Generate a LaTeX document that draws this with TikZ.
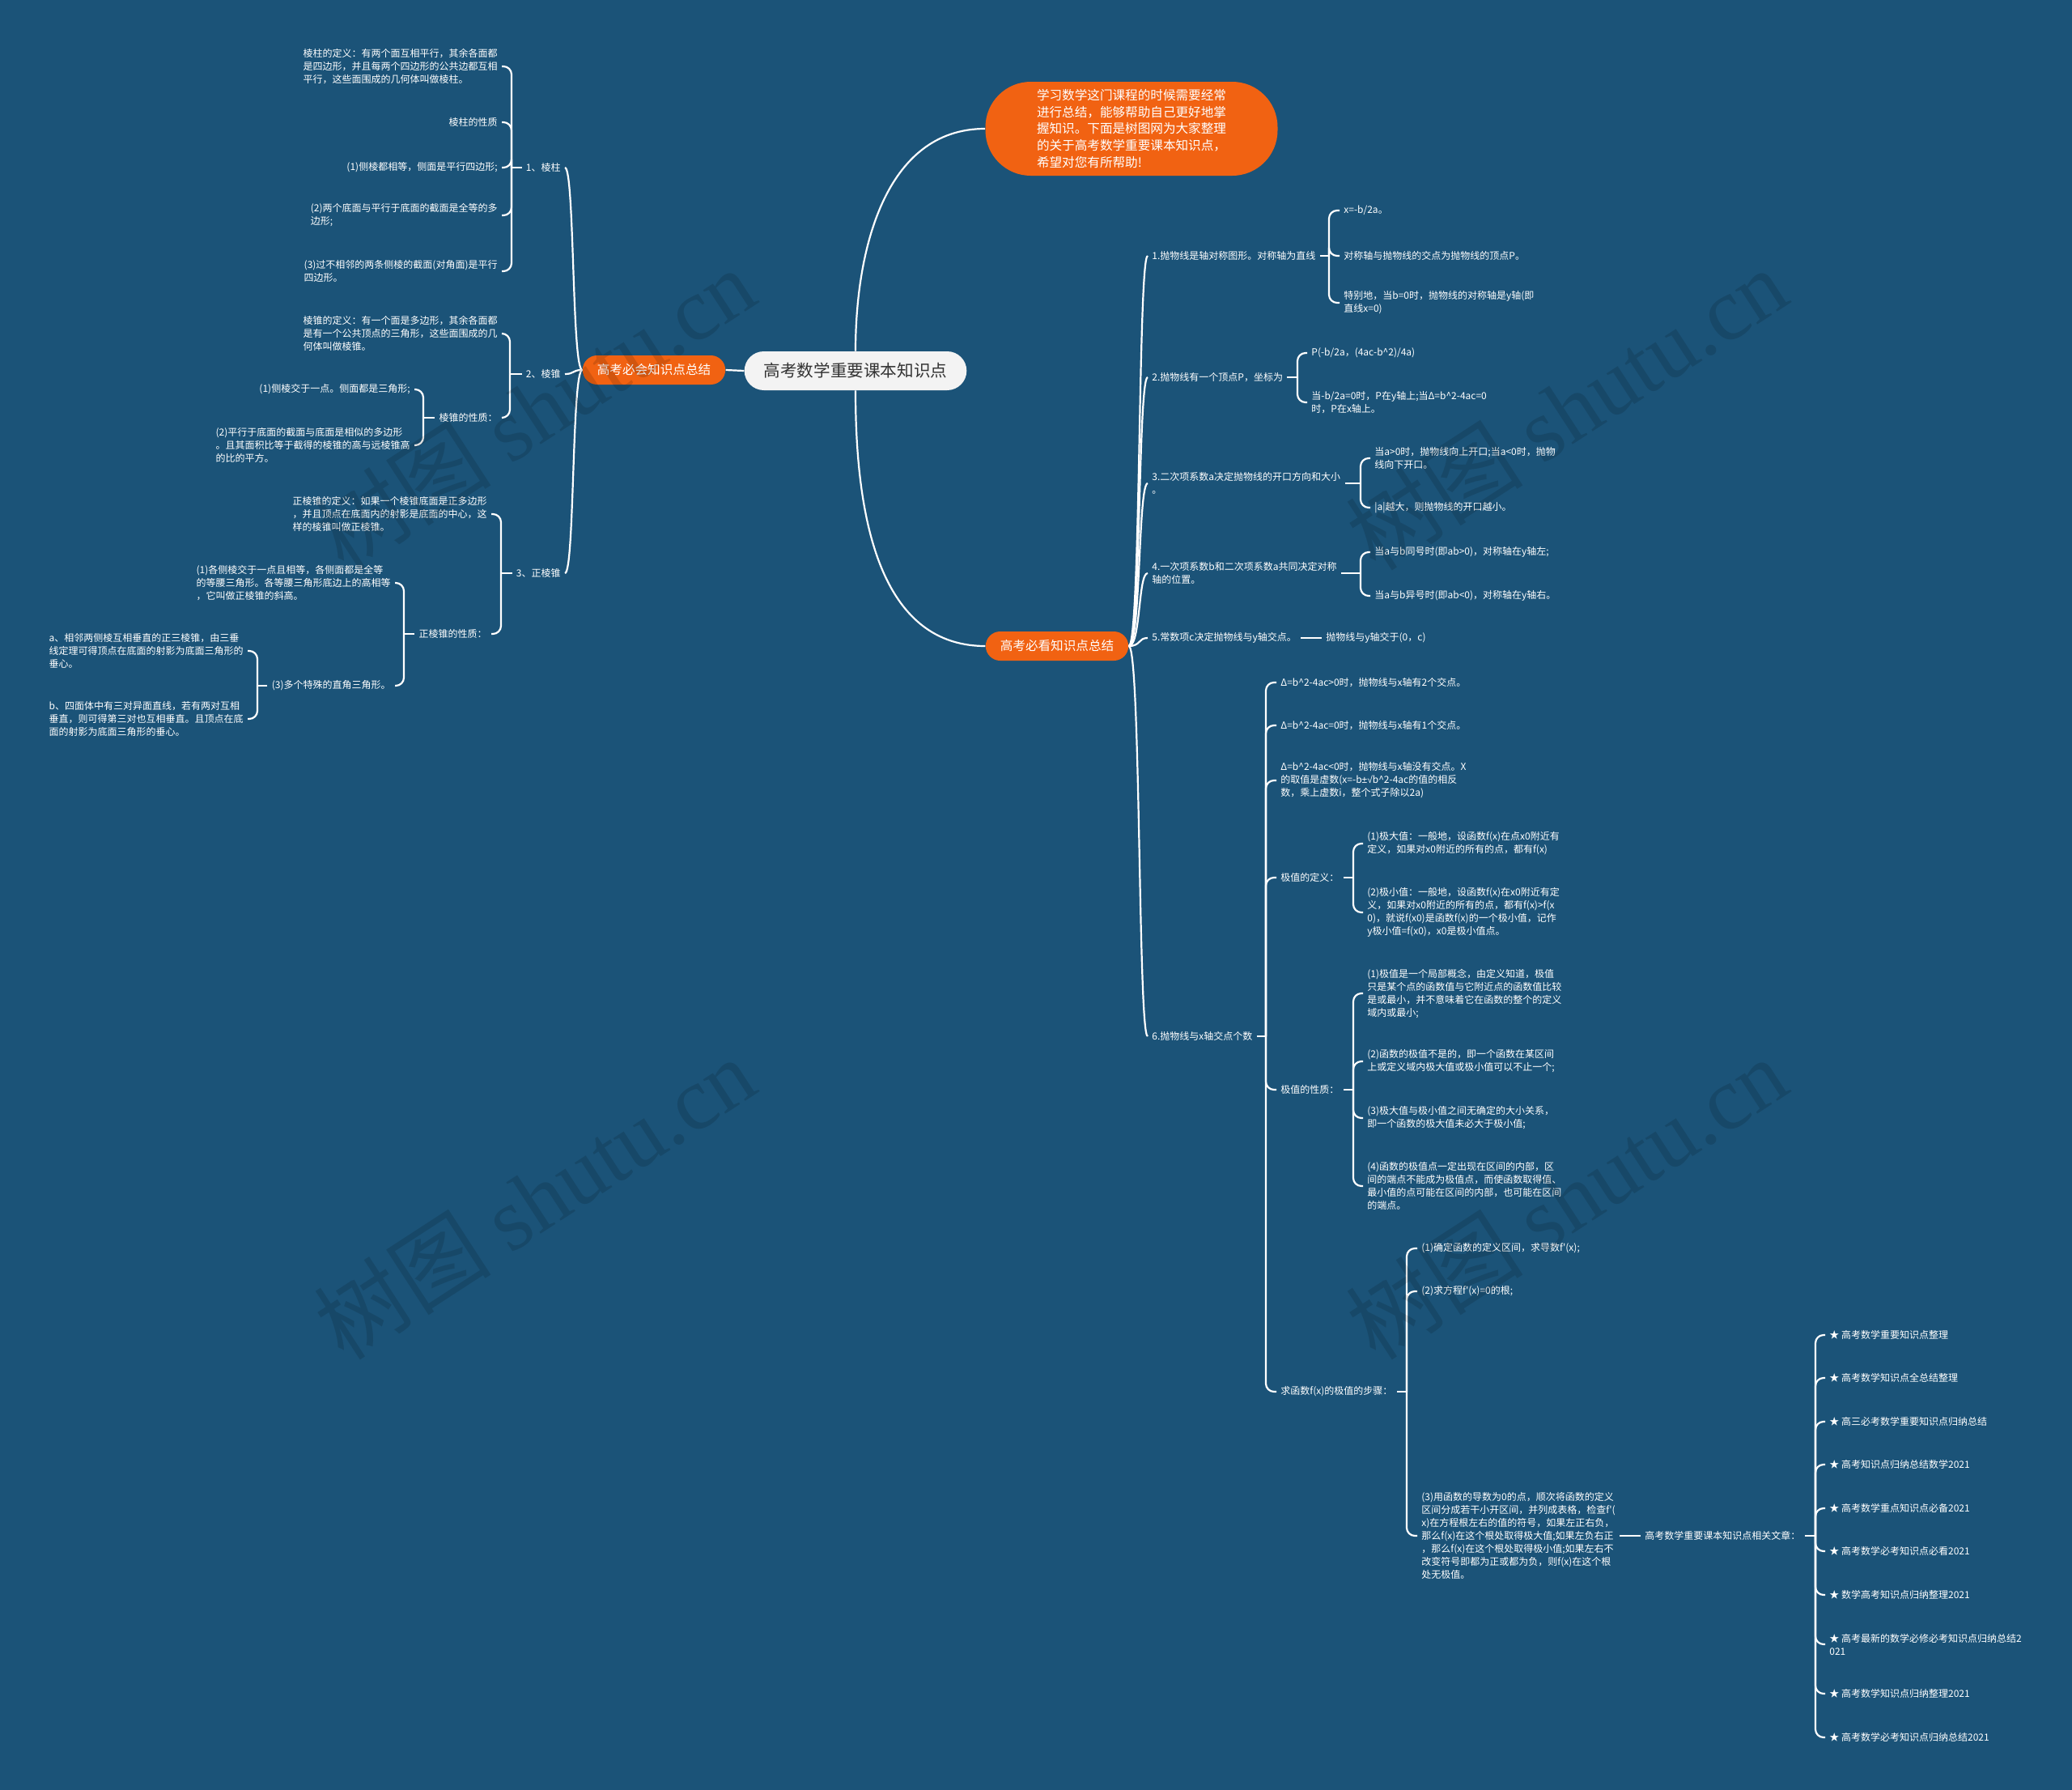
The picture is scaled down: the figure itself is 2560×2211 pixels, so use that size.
\documentclass[tikz,border=0pt]{standalone}
\usepackage{fontspec}
\setmainfont{Noto Sans CJK SC}
\newfontfamily\wmfont{Liberation Serif}
\newfontfamily\symfont{Liberation Sans}
\definecolor{bgblue}{RGB}{27,83,120}
\definecolor{hubred}{RGB}{241,98,18}
\definecolor{rootgray}{RGB}{243,243,243}
\tikzset{
  leaf/.style={text=white, font=\fontsize{6}{8}\selectfont, align=left, inner sep=2.5pt},
  hub/.style={fill=hubred, text=white, font=\fontsize{7.8}{10.3}\selectfont,
    rounded corners=9pt, minimum height=18pt, inner xsep=9pt, inner ysep=0pt},
  link/.style={draw=white, line width=1.1pt},
  fork/.style={link, rounded corners=5pt},
  wmark/.style={text=black, text opacity=0.13, font=\fontsize{55}{55}\selectfont, rotate=33},
}
\begin{document}
\begin{tikzpicture}[x=0.5pt,y=-0.5pt]
  \fill[bgblue] (0,0) rectangle (2560,2211);
  \useasboundingbox (0,0) rectangle (2560,2211);

  % centre
  \node[fill=rootgray, text=black!80, font=\fontsize{10.3}{12}\selectfont,
    rounded corners=12pt, minimum height=24pt, inner xsep=12pt] (root) at (1057,458) {高考数学重要课本知识点};
  \node[fill=hubred, text=white, font=\fontsize{7.8}{10.35}\selectfont, align=left,
    rounded corners=28pt, minimum width=180.5pt, minimum height=58pt] (intro) at (1398,159)
    {学习数学这门课程的时候需要经常\\进行总结，能够帮助自己更好地掌\\握知识。下面是树图网为大家整理\\的关于高考数学重要课本知识点，\\希望对您有所帮助!};
  \node[hub] (solid) at (808,457) {高考必会知识点总结};
  \node[hub] (parab) at (1306,798) {高考必看知识点总结};
  \draw[link] (solid.east) -- (root.west);
  \draw[link] (root.north) to[out=90,in=180] (intro.west);
  \draw[link] (root.south) to[out=-90,in=180] (parab.west);

  % left: solids
  \node[leaf, anchor=east] (prism) at (698,207) {1、棱柱};
  \node[leaf, anchor=east] (pyr) at (698,462) {2、棱锥};
  \node[leaf, anchor=east] (rpyr) at (698,708) {3、正棱锥};
  \draw[link] (solid.west) .. controls +(-13,0) and +(12,0) .. (prism.east);
  \draw[link] (solid.west) .. controls +(-13,0) and +(12,0) .. (pyr.east);
  \draw[link] (solid.west) .. controls +(-13,0) and +(12,0) .. (rpyr.east);

  \node[leaf, anchor=east] (prismdef) at (620,82) {棱柱的定义：有两个面互相平行，其余各面都\\是四边形，并且每两个四边形的公共边都互相\\平行，这些面围成的几何体叫做棱柱。};
  \node[leaf, anchor=east] (prismprop) at (620,151) {棱柱的性质};
  \node[leaf, anchor=east] (prismp1) at (620,207) {(1)侧棱都相等，侧面是平行四边形;};
  \node[leaf, anchor=east] (prismp2) at (620,266) {(2)两个底面与平行于底面的截面是全等的多\\边形;};
  \node[leaf, anchor=east] (prismp3) at (620,335) {(3)过不相邻的两条侧棱的截面(对角面)是平行\\四边形。};
  \coordinate (prismj) at (632,207);
  \draw[link] (prism.west) -- (prismj);
  \draw[fork] (prismj) |- (prismdef.east);
  \draw[fork] (prismj) |- (prismprop.east);
  \draw[fork] (prismj) |- (prismp1.east);
  \draw[fork] (prismj) |- (prismp2.east);
  \draw[fork] (prismj) |- (prismp3.east);

  \node[leaf, anchor=east] (pyrdef) at (620,412) {棱锥的定义：有一个面是多边形，其余各面都\\是有一个公共顶点的三角形，这些面围成的几\\何体叫做棱锥。};
  \node[leaf, anchor=east] (pyrprop) at (620,516) {棱锥的性质：};
  \coordinate (pyrj) at (630,462);
  \draw[link] (pyr.west) -- (pyrj);
  \draw[fork] (pyrj) |- (pyrdef.east);
  \draw[fork] (pyrj) |- (pyrprop.east);
  \node[leaf, anchor=east] (pyrp1) at (512,481) {(1)侧棱交于一点。侧面都是三角形;};
  \node[leaf, anchor=east] (pyrp2) at (512,550) {(2)平行于底面的截面与底面是相似的多边形\\。且其面积比等于截得的棱锥的高与远棱锥高\\的比的平方。};
  \coordinate (pyrpj) at (523,516);
  \draw[link] (pyrprop.west) -- (pyrpj);
  \draw[fork] (pyrpj) |- (pyrp1.east);
  \draw[fork] (pyrpj) |- (pyrp2.east);

  \node[leaf, anchor=east] (rpyrdef) at (607,635) {正棱锥的定义：如果一个棱锥底面是正多边形\\，并且顶点在底面内的射影是底面的中心，这\\样的棱锥叫做正棱锥。};
  \node[leaf, anchor=east] (rpyrprop) at (607,783) {正棱锥的性质：};
  \coordinate (rpyrj) at (619,708);
  \draw[link] (rpyr.west) -- (rpyrj);
  \draw[fork] (rpyrj) |- (rpyrdef.east);
  \draw[fork] (rpyrj) |- (rpyrprop.east);
  \node[leaf, anchor=east] (rpyrp1) at (488,720) {(1)各侧棱交于一点且相等，各侧面都是全等\\的等腰三角形。各等腰三角形底边上的高相等\\，它叫做正棱锥的斜高。};
  \node[leaf, anchor=east] (rpyrp3) at (488,847) {(3)多个特殊的直角三角形。};
  \coordinate (rpyrpj) at (499,783);
  \draw[link] (rpyrprop.west) -- (rpyrpj);
  \draw[fork] (rpyrpj) |- (rpyrp1.east);
  \draw[fork] (rpyrpj) |- (rpyrp3.east);
  \node[leaf, anchor=east] (rpyra) at (306,804) {a、相邻两侧棱互相垂直的正三棱锥，由三垂\\线定理可得顶点在底面的射影为底面三角形的\\垂心。};
  \node[leaf, anchor=east] (rpyrb) at (306,888) {b、四面体中有三对异面直线，若有两对互相\\垂直，则可得第三对也互相垂直。且顶点在底\\面的射影为底面三角形的垂心。};
  \coordinate (rpyrtj) at (318,847);
  \draw[link] (rpyrp3.west) -- (rpyrtj);
  \draw[fork] (rpyrtj) |- (rpyra.east);
  \draw[fork] (rpyrtj) |- (rpyrb.east);

  % right: parabola
  \node[leaf, anchor=west] (axis) at (1418,316) {1.抛物线是轴对称图形。对称轴为直线};
  \node[leaf, anchor=west] (vertex) at (1418,466) {2.抛物线有一个顶点P，坐标为};
  \node[leaf, anchor=west] (acoef) at (1418,597) {3.二次项系数a决定抛物线的开口方向和大小\\。};
  \node[leaf, anchor=west] (bcoef) at (1418,708) {4.一次项系数b和二次项系数a共同决定对称\\轴的位置。};
  \node[leaf, anchor=west] (ccoef) at (1418,788) {5.常数项c决定抛物线与y轴交点。};
  \node[leaf, anchor=west] (roots) at (1418,1280) {6.抛物线与x轴交点个数};
  \draw[link] (parab.east) .. controls +(15,0) and +(-12,0) .. (axis.west);
  \draw[link] (parab.east) .. controls +(15,0) and +(-12,0) .. (vertex.west);
  \draw[link] (parab.east) .. controls +(15,0) and +(-12,0) .. (acoef.west);
  \draw[link] (parab.east) .. controls +(15,0) and +(-12,0) .. (bcoef.west);
  \draw[link] (parab.east) .. controls +(15,0) and +(-12,0) .. (ccoef.west);
  \draw[link] (parab.east) .. controls +(15,0) and +(-12,0) .. (roots.west);

  \node[leaf, anchor=west] (axisx) at (1655,260) {x=-b/2a。};
  \node[leaf, anchor=west] (axisvtx) at (1655,316) {对称轴与抛物线的交点为抛物线的顶点P。};
  \node[leaf, anchor=west] (axisb) at (1655,374) {特别地，当b=0时，抛物线的对称轴是y轴(即\\直线x=0)};
  \coordinate (axisj) at (1642,316);
  \draw[link] (axis.east) -- (axisj);
  \draw[fork] (axisj) |- (axisx.west);
  \draw[fork] (axisj) |- (axisvtx.west);
  \draw[fork] (axisj) |- (axisb.west);

  \node[leaf, anchor=west] (vtxcoord) at (1615,436) {P(-b/2a，(4ac-b\textasciicircum 2)/4a)};
  \node[leaf, anchor=west] (vtxzero) at (1615,497) {当-b/2a=0时，P在y轴上;当Δ=b\textasciicircum 2-4ac=0\\时，P在x轴上。};
  \coordinate (vertexj) at (1603,466);
  \draw[link] (vertex.east) -- (vertexj);
  \draw[fork] (vertexj) |- (vtxcoord.west);
  \draw[fork] (vertexj) |- (vtxzero.west);

  \node[leaf, anchor=west] (aopen) at (1693,566) {当a>0时，抛物线向上开口;当a<0时，抛物\\线向下开口。};
  \node[leaf, anchor=west] (asize) at (1693,627) {|a|越大，则抛物线的开口越小。};
  \coordinate (acoefj) at (1681,597);
  \draw[link] (acoef.east) -- (acoefj);
  \draw[fork] (acoefj) |- (aopen.west);
  \draw[fork] (acoefj) |- (asize.west);

  \node[leaf, anchor=west] (bleft) at (1693,682) {当a与b同号时(即ab>0)，对称轴在y轴左;};
  \node[leaf, anchor=west] (bright) at (1693,736) {当a与b异号时(即ab<0)，对称轴在y轴右。};
  \coordinate (bcoefj) at (1681,708);
  \draw[link] (bcoef.east) -- (bcoefj);
  \draw[fork] (bcoefj) |- (bleft.west);
  \draw[fork] (bcoefj) |- (bright.west);

  \node[leaf, anchor=west] (cpoint) at (1633,788) {抛物线与y轴交于(0，c)};
  \draw[link] (ccoef.east) -- (cpoint.west);

  \node[leaf, anchor=west] (dpos) at (1577,843) {Δ=b\textasciicircum 2-4ac>0时，抛物线与x轴有2个交点。};
  \node[leaf, anchor=west] (dzero) at (1577,896) {Δ=b\textasciicircum 2-4ac=0时，抛物线与x轴有1个交点。};
  \node[leaf, anchor=west] (dneg) at (1577,964) {Δ=b\textasciicircum 2-4ac<0时，抛物线与x轴没有交点。X\\的取值是虚数(x=-b{\symfont ±√}b\textasciicircum 2-4ac的值的相反\\数，乘上虚数i，整个式子除以2a)};
  \node[leaf, anchor=west] (extdef) at (1577,1084) {极值的定义：};
  \node[leaf, anchor=west] (extprop) at (1577,1346) {极值的性质：};
  \node[leaf, anchor=west] (steps) at (1577,1719) {求函数f(x)的极值的步骤：};
  \coordinate (rootsj) at (1564,1280);
  \draw[link] (roots.east) -- (rootsj);
  \draw[fork] (rootsj) |- (dpos.west);
  \draw[fork] (rootsj) |- (dzero.west);
  \draw[fork] (rootsj) |- (dneg.west);
  \draw[fork] (rootsj) |- (extdef.west);
  \draw[fork] (rootsj) |- (extprop.west);
  \draw[fork] (rootsj) |- (steps.west);

  \node[leaf, anchor=west] (extmax) at (1684,1042) {(1)极大值：一般地，设函数f(x)在点x0附近有\\定义，如果对x0附近的所有的点，都有f(x)};
  \node[leaf, anchor=west] (extmin) at (1684,1127) {(2)极小值：一般地，设函数f(x)在x0附近有定\\义，如果对x0附近的所有的点，都有f(x)>f(x\\0)，就说f(x0)是函数f(x)的一个极小值，记作\\y极小值=f(x0)，x0是极小值点。};
  \coordinate (extdefj) at (1672,1084);
  \draw[link] (extdef.east) -- (extdefj);
  \draw[fork] (extdefj) |- (extmax.west);
  \draw[fork] (extdefj) |- (extmin.west);

  \node[leaf, anchor=west] (extp1) at (1684,1227) {(1)极值是一个局部概念，由定义知道，极值\\只是某个点的函数值与它附近点的函数值比较\\是或最小，并不意味着它在函数的整个的定义\\域内或最小;};
  \node[leaf, anchor=west] (extp2) at (1684,1311) {(2)函数的极值不是的，即一个函数在某区间\\上或定义域内极大值或极小值可以不止一个;};
  \node[leaf, anchor=west] (extp3) at (1684,1381) {(3)极大值与极小值之间无确定的大小关系，\\即一个函数的极大值未必大于极小值;};
  \node[leaf, anchor=west] (extp4) at (1684,1465) {(4)函数的极值点一定出现在区间的内部，区\\间的端点不能成为极值点，而使函数取得值、\\最小值的点可能在区间的内部，也可能在区间\\的端点。};
  \coordinate (extpropj) at (1672,1346);
  \draw[link] (extprop.east) -- (extpropj);
  \draw[fork] (extpropj) |- (extp1.west);
  \draw[fork] (extpropj) |- (extp2.west);
  \draw[fork] (extpropj) |- (extp3.west);
  \draw[fork] (extpropj) |- (extp4.west);

  \node[leaf, anchor=west] (stepa) at (1751,1542) {(1)确定函数的定义区间，求导数f\textquotesingle(x);};
  \node[leaf, anchor=west] (stepb) at (1751,1595) {(2)求方程f\textquotesingle(x)=0的根;};
  \node[leaf, anchor=west] (stepc) at (1751,1897) {(3)用函数的导数为0的点，顺次将函数的定义\\区间分成若干小开区间，并列成表格，检查f\textquotesingle(\\x)在方程根左右的值的符号，如果左正右负，\\那么f(x)在这个根处取得极大值;如果左负右正\\，那么f(x)在这个根处取得极小值;如果左右不\\改变符号即都为正或都为负，则f(x)在这个根\\处无极值。};
  \coordinate (stepsj) at (1738,1719);
  \draw[link] (steps.east) -- (stepsj);
  \draw[fork] (stepsj) |- (stepa.west);
  \draw[fork] (stepsj) |- (stepb.west);
  \draw[fork] (stepsj) |- (stepc.west);

  % related articles
  \node[leaf, anchor=west] (related) at (2027,1897) {高考数学重要课本知识点相关文章：};
  \draw[link] (stepc.east) -- (related.west);
  \node[leaf, anchor=west] (art1) at (2255,1649) {★ 高考数学重要知识点整理};
  \node[leaf, anchor=west] (art2) at (2255,1702) {★ 高考数学知识点全总结整理};
  \node[leaf, anchor=west] (art3) at (2255,1756) {★ 高三必考数学重要知识点归纳总结};
  \node[leaf, anchor=west] (art4) at (2255,1809) {★ 高考知识点归纳总结数学2021};
  \node[leaf, anchor=west] (art5) at (2255,1863) {★ 高考数学重点知识点必备2021};
  \node[leaf, anchor=west] (art6) at (2255,1916) {★ 高考数学必考知识点必看2021};
  \node[leaf, anchor=west] (art7) at (2255,1970) {★ 数学高考知识点归纳整理2021};
  \node[leaf, anchor=west] (art8) at (2255,2031) {★ 高考最新的数学必修必考知识点归纳总结2\\021};
  \node[leaf, anchor=west] (art9) at (2255,2092) {★ 高考数学知识点归纳整理2021};
  \node[leaf, anchor=west] (art10) at (2255,2146) {★ 高考数学必考知识点归纳总结2021};
  \coordinate (relatedj) at (2243,1897);
  \draw[link] (related.east) -- (relatedj);
  \foreach \a in {art1,art2,art3,art4,art5,art6,art7,art8,art9,art10}
    \draw[fork] (relatedj) |- (\a.west);

  % watermark on top
  \node[wmark] (wm1) at (660,505) {树图 {\wmfont shutu.cn}};
  \node[wmark] (wm2) at (1935,505) {树图 {\wmfont shutu.cn}};
  \node[wmark] (wm3) at (660,1480) {树图 {\wmfont shutu.cn}};
  \node[wmark] (wm4) at (1935,1480) {树图 {\wmfont shutu.cn}};
\end{tikzpicture}
\end{document}
